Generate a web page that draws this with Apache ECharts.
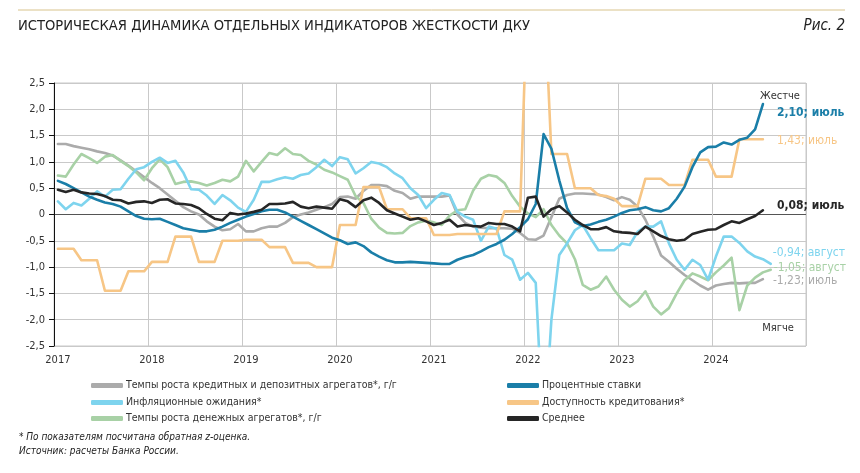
<!DOCTYPE html>
<html>
<head>
<meta charset="utf-8">
<script src="https://cdn.jsdelivr.net/npm/echarts@6/dist/echarts.min.js"></script>
<style>
html,body{margin:0;padding:0;background:#fff;}
#chart{width:860px;height:473px;}
</style>
</head>
<body>
<div id="chart"></div>
<script>
// ---- Data (monthly, Jan 2017 onward) ----
const years = ['2017','2018','2019','2020','2021','2022','2023','2024'];
const yTicks = [-2.5,-2,-1.5,-1,-0.5,0,0.5,1,1.5,2,2.5];

const seriesNames = [
  'Темпы роста кредитных и депозитных агрегатов*, г/г',
  'Инфляционные ожидания*',
  'Темпы роста денежных агрегатов*, г/г',
  'Процентные ставки',
  'Доступность кредитования*',
  'Среднее'
];
const endMonths = ['июль','август','август','июль','июль','июль'];

const creditDeposit = [1.34,1.34,1.30,1.27,1.24,1.20,1.17,1.12,1.03,0.93,0.82,0.71,0.60,0.50,0.38,0.26,
0.14,0.06,0.00,-0.13,-0.23,-0.30,-0.28,-0.18,-0.32,-0.32,-0.26,-0.23,-0.23,-0.16,-0.05,0.00,
0.04,0.09,0.14,0.20,0.33,0.34,0.30,0.45,0.56,0.56,0.54,0.45,0.41,0.30,0.34,0.34,
0.34,0.34,0.36,0.00,-0.16,-0.23,-0.25,-0.26,-0.26,-0.26,-0.27,-0.35,-0.47,-0.48,-0.40,-0.05,
0.30,0.37,0.40,0.40,0.39,0.38,0.33,0.27,0.33,0.28,0.15,-0.10,-0.42,-0.78,-0.90,-1.03,
-1.15,-1.25,-1.35,-1.43,-1.35,-1.32,-1.30,-1.31,-1.30,-1.30,-1.23];

const inflationExp = [0.25,0.10,0.22,0.17,0.30,0.44,0.34,0.47,0.48,0.68,0.86,0.90,1.00,1.08,0.98,1.02,
0.80,0.48,0.47,0.36,0.20,0.37,0.27,0.13,0.05,0.28,0.62,0.62,0.67,0.71,0.68,0.75,
0.78,0.90,1.04,0.92,1.09,1.05,0.78,0.88,1.00,0.97,0.90,0.78,0.69,0.50,0.37,0.12,
0.28,0.41,0.37,0.05,-0.04,-0.10,-0.50,-0.23,-0.27,-0.77,-0.86,-1.24,-1.11,-1.30,-4.30,-2.00,
-0.77,-0.55,-0.30,-0.20,-0.45,-0.68,-0.68,-0.68,-0.55,-0.58,-0.33,-0.23,-0.23,-0.13,-0.55,-0.86,
-1.05,-0.86,-0.96,-1.24,-0.80,-0.42,-0.42,-0.54,-0.70,-0.80,-0.85,-0.94];

const moneyAgg = [0.74,0.72,0.95,1.15,1.07,0.98,1.10,1.13,1.02,0.92,0.80,0.65,0.88,1.05,0.90,0.58,
0.62,0.63,0.60,0.55,0.60,0.66,0.63,0.72,1.02,0.82,1.00,1.17,1.13,1.26,1.15,1.13,
1.02,0.95,0.85,0.80,0.73,0.66,0.35,0.22,-0.08,-0.25,-0.35,-0.36,-0.35,-0.22,-0.15,-0.12,
-0.15,-0.20,-0.02,0.08,0.10,0.45,0.68,0.75,0.72,0.60,0.35,0.15,0.02,-0.05,0.10,-0.20,
-0.40,-0.55,-0.85,-1.34,-1.43,-1.37,-1.18,-1.43,-1.62,-1.75,-1.65,-1.46,-1.75,-1.90,-1.78,-1.50,
-1.25,-1.12,-1.18,-1.25,-1.10,-0.97,-0.82,-1.82,-1.35,-1.20,-1.10,-1.05];

const rates = [0.64,0.58,0.50,0.42,0.34,0.28,0.23,0.20,0.15,0.06,-0.03,-0.08,-0.09,-0.08,-0.14,-0.20,
-0.26,-0.29,-0.32,-0.32,-0.29,-0.23,-0.16,-0.10,-0.04,0.01,0.06,0.09,0.09,0.04,-0.04,-0.12,
-0.20,-0.28,-0.36,-0.44,-0.49,-0.56,-0.53,-0.60,-0.72,-0.80,-0.87,-0.91,-0.91,-0.90,-0.91,-0.92,
-0.93,-0.94,-0.94,-0.86,-0.81,-0.77,-0.70,-0.62,-0.56,-0.48,-0.37,-0.24,-0.09,0.20,1.53,1.25,
0.65,0.12,-0.15,-0.22,-0.19,-0.14,-0.10,-0.04,0.03,0.08,0.10,0.14,0.08,0.06,0.12,0.30,
0.53,0.90,1.18,1.28,1.29,1.37,1.33,1.42,1.46,1.62,2.10];

const creditAvail = [-0.65,-0.65,-0.65,-0.87,-0.87,-0.87,-1.45,-1.45,-1.45,-1.08,-1.08,-1.08,-0.90,-0.90,-0.90,-0.42,
-0.42,-0.42,-0.90,-0.90,-0.90,-0.50,-0.50,-0.50,-0.48,-0.48,-0.48,-0.62,-0.62,-0.62,-0.92,-0.92,
-0.92,-1.00,-1.00,-1.00,-0.20,-0.20,-0.20,0.52,0.52,0.52,0.10,0.10,0.10,-0.07,-0.07,-0.07,
-0.39,-0.39,-0.39,-0.37,-0.37,-0.37,-0.37,-0.37,-0.37,0.06,0.06,0.06,4.50,4.50,4.50,1.15,
1.15,1.15,0.50,0.50,0.50,0.37,0.35,0.30,0.16,0.16,0.16,0.68,0.68,0.68,0.56,0.56,
0.56,1.04,1.04,1.04,0.72,0.72,0.72,1.43,1.43,1.43,1.43];

const average = [0.47,0.43,0.47,0.42,0.40,0.39,0.35,0.28,0.27,0.21,0.24,0.25,0.22,0.28,0.29,0.21,
0.20,0.18,0.12,0.01,-0.08,-0.11,0.03,0.00,0.02,0.05,0.09,0.20,0.20,0.21,0.24,0.15,
0.12,0.15,0.13,0.11,0.29,0.25,0.14,0.27,0.32,0.22,0.08,0.02,-0.04,-0.10,-0.07,-0.13,
-0.20,-0.16,-0.10,-0.23,-0.20,-0.22,-0.23,-0.16,-0.18,-0.18,-0.23,-0.32,0.32,0.34,-0.04,0.10,
0.16,0.04,-0.10,-0.20,-0.28,-0.28,-0.24,-0.32,-0.34,-0.35,-0.37,-0.23,-0.32,-0.41,-0.47,-0.50,
-0.48,-0.37,-0.33,-0.29,-0.28,-0.20,-0.13,-0.16,-0.09,-0.03,0.08];

// ---- categories: months Jan 2017 .. Dec 2024 ----
const categories = [];
years.forEach(y => { for (let m = 1; m <= 12; m++) categories.push(y + '-' + (m < 10 ? '0' + m : m)); });

const FONT = '"Liberation Sans Narrow","DejaVu Sans Condensed","Roboto Condensed",sans-serif';
const colors = ['#ABABAB','#7ED4EE','#A8D1A6','#1A7EA8','#F7C686','#262626'];
const dataSets = [creditDeposit, inflationExp, moneyAgg, rates, creditAvail, average];
const labelOffsets = [[10,2],[2,-11],[3,-2],[14,9],[14,2],[14,-4]];
const labelBold = [false,false,false,true,false,true];
const drawOrder = [0,2,1,4,3,5];

const fmt = v => v.toFixed(2).replace('.', ',');

const series = drawOrder.map(i => ({
  name: seriesNames[i],
  type: 'line',
  data: dataSets[i],
  showSymbol: false,
  symbol: 'none',
  clip: true,
  z: 2 + drawOrder.indexOf(i),
  lineStyle: { color: colors[i], width: 2.6, cap: 'round', join: 'round' },
  itemStyle: { color: colors[i] },
  endLabel: {
    show: true,
    distance: 0,
    offset: labelOffsets[i],
    formatter: p => fmt(p.value) + '; ' + endMonths[i],
    color: colors[i],
    fontFamily: FONT,
    fontSize: 12,
    fontWeight: labelBold[i] ? 'bold' : 'normal'
  }
}));

const legendPos = [
  {left: 86, top: 375}, {left: 86, top: 392}, {left: 86, top: 408},
  {left: 502, top: 375}, {left: 502, top: 392}, {left: 502, top: 408}
];
const legends = seriesNames.map((n, i) => ({
  data: [{ name: n, icon: 'roundRect', itemStyle: { color: colors[i] } }],
  left: legendPos[i].left, top: legendPos[i].top,
  itemWidth: 32, itemHeight: 5, itemGap: 0,
  selectedMode: false,
  textStyle: { fontFamily: FONT, fontSize: 10.5, color: '#333', padding: [0,0,0,-2] }
}));

const gridColor = '#C9C9C9';
const splitColors = yTicks.map(v => v === 0 ? '#555555' : gridColor);

const chart = echarts.init(document.getElementById('chart'), null, { renderer: 'canvas' });
chart.setOption({
  animation: false,
  backgroundColor: '#ffffff',
  grid: { left: 54, top: 83, width: 752, height: 263, show: true, borderColor: gridColor, borderWidth: 1 },
  xAxis: {
    type: 'category',
    data: categories,
    boundaryGap: true,
    axisLine: { show: false },
    axisTick: { show: false, interval: 11 },
    axisLabel: { interval: 11, formatter: v => v.slice(0, 4), fontFamily: FONT, fontSize: 11, color: '#333', margin: 9 },
    splitLine: { show: true, interval: 11, lineStyle: { color: gridColor, width: 1 } }
  },
  yAxis: {
    type: 'value',
    min: -2.5, max: 2.5, interval: 0.5,
    axisLine: { show: true, lineStyle: { color: '#111', width: 1 } },
    axisTick: { show: true, length: 5, lineStyle: { color: '#111' } },
    axisLabel: { fontFamily: FONT, fontSize: 11, color: '#333', margin: 9,
      formatter: v => v === 0 ? '0' : v.toFixed(1).replace('.', ',') },
    splitLine: { show: true, lineStyle: { color: splitColors, width: 1 } }
  },
  legend: legends,
  series: series,
  graphic: [
    { type: 'line', shape: { x1: 18, y1: 10, x2: 845, y2: 10 }, style: { stroke: '#D8C38C', lineWidth: 1 } },
    { type: 'text', left: 18, top: 19, style: { text: 'ИСТОРИЧЕСКАЯ ДИНАМИКА ОТДЕЛЬНЫХ ИНДИКАТОРОВ ЖЕСТКОСТИ ДКУ', font: '14.6px ' + FONT, fill: '#222' } },
    { type: 'text', right: 15, top: 19, style: { text: 'Рис. 2', font: 'italic 15px ' + FONT, fill: '#222' } },
    { type: 'text', x: 780, y: 96, style: { text: 'Жестче', font: '11px ' + FONT, fill: '#333', align: 'center', verticalAlign: 'middle' } },
    { type: 'text', x: 778, y: 328, style: { text: 'Мягче', font: '11px ' + FONT, fill: '#333', align: 'center', verticalAlign: 'middle' } },
    { type: 'text', left: 19, top: 432, style: { text: '* По показателям посчитана обратная z-оценка.', font: 'italic 10px ' + FONT, fill: '#222' } },
    { type: 'text', left: 19, top: 446, style: { text: 'Источник: расчеты Банка России.', font: 'italic 10px ' + FONT, fill: '#222' } }
  ]
});
</script>
</body>
</html>
